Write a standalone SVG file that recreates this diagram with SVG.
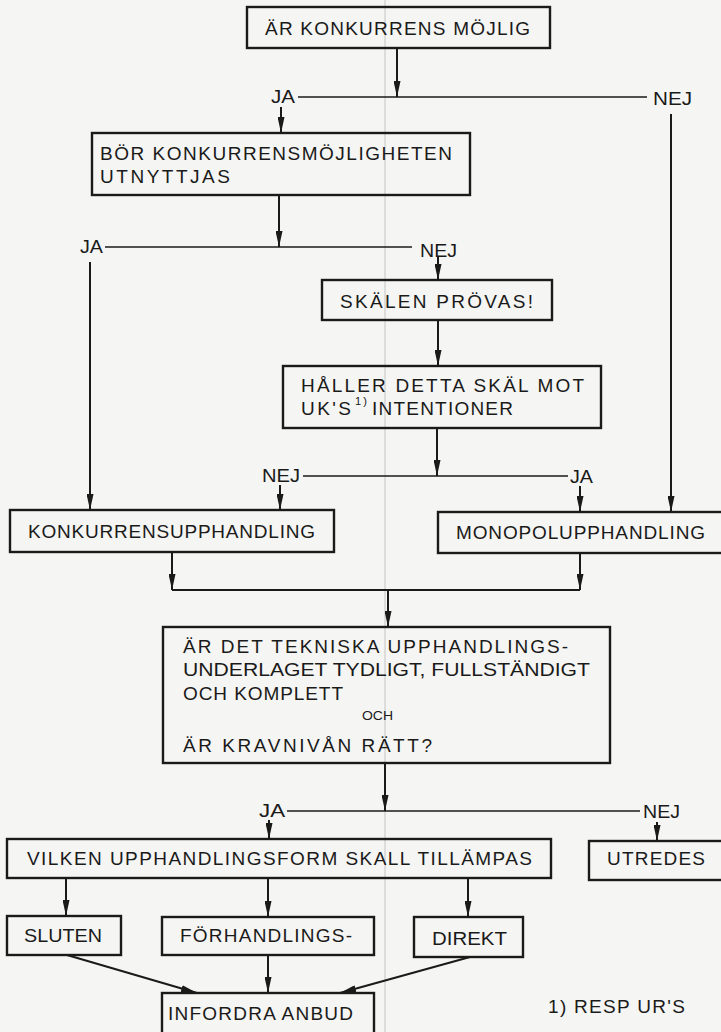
<svg xmlns="http://www.w3.org/2000/svg" width="721" height="1032" viewBox="0 0 721 1032">
<defs>
<style>
.box{fill:none;stroke:#1a1a1a;stroke-width:2.4}
.ln{fill:none;stroke:#1a1a1a;stroke-width:2}
.hl{fill:none;stroke:#1a1a1a;stroke-width:1.6}
.ar{fill:none;stroke:#1a1a1a;stroke-width:2;marker-end:url(#ah)}
text{font-family:"Liberation Sans",Arial,sans-serif;font-size:19px;fill:#1a1a1a}
.sm{font-size:13px}
.sup{font-size:11px}
</style>
<marker id="ah" viewBox="0 0 16 7" refX="16" refY="3.5" markerWidth="16" markerHeight="7" markerUnits="userSpaceOnUse" orient="auto">
<path d="M0,0 L16,3.5 L0,7 z" fill="#1a1a1a"/>
</marker>
</defs>
<rect x="0" y="0" width="721" height="1032" fill="#f5f5f3"/>
<line x1="385" y1="0" x2="385" y2="1032" stroke="#c4c4c4" stroke-width="1"/>

<g id="connectors">
<line class="ar" x1="397" y1="48" x2="397" y2="97"/>
<line class="hl" x1="298" y1="97" x2="647" y2="97"/>
<line class="ar" x1="281" y1="107" x2="281" y2="133"/>
<line class="ar" x1="671" y1="114" x2="671" y2="512"/>
<line class="ar" x1="279" y1="195" x2="279" y2="247"/>
<line class="hl" x1="105" y1="247" x2="412" y2="247"/>
<line class="ar" x1="90" y1="262" x2="90" y2="510"/>
<line class="ar" x1="438" y1="257" x2="438" y2="280"/>
<line class="ar" x1="438" y1="320" x2="438" y2="366"/>
<line class="ar" x1="437" y1="428" x2="437" y2="476"/>
<line class="hl" x1="303" y1="476" x2="568" y2="476"/>
<line class="ar" x1="280" y1="485" x2="280" y2="510"/>
<line class="ar" x1="580" y1="486" x2="580" y2="512"/>
<line class="ar" x1="172" y1="552" x2="172" y2="590"/>
<line class="ar" x1="580" y1="553" x2="580" y2="590"/>
<line class="ln" x1="172" y1="590" x2="580" y2="590"/>
<line class="ar" x1="388" y1="590" x2="388" y2="627"/>
<line class="ar" x1="385" y1="763" x2="385" y2="811"/>
<line class="hl" x1="287" y1="811" x2="640" y2="811"/>
<line class="ar" x1="269" y1="820" x2="269" y2="839"/>
<line class="ar" x1="657" y1="822" x2="657" y2="841"/>
<line class="ar" x1="66" y1="878" x2="66" y2="916"/>
<line class="ar" x1="268" y1="878" x2="268" y2="917"/>
<line class="ar" x1="468" y1="878" x2="468" y2="917"/>
<line class="ar" x1="67" y1="955" x2="197" y2="993"/>
<line class="ar" x1="268" y1="955" x2="268" y2="993"/>
<line class="ar" x1="470" y1="957" x2="340" y2="993"/>
<text x="271" y="103" textLength="24" lengthAdjust="spacingAndGlyphs">JA</text>
<text x="653" y="105" textLength="39" lengthAdjust="spacingAndGlyphs">NEJ</text>
<text x="80" y="253" textLength="23" lengthAdjust="spacingAndGlyphs">JA</text>
<text x="420" y="257" textLength="37" lengthAdjust="spacingAndGlyphs">NEJ</text>
<text x="262" y="482" textLength="38" lengthAdjust="spacingAndGlyphs">NEJ</text>
<text x="570" y="483" textLength="23" lengthAdjust="spacingAndGlyphs">JA</text>
<text x="259" y="817" textLength="26" lengthAdjust="spacingAndGlyphs">JA</text>
<text x="643" y="818" textLength="37" lengthAdjust="spacingAndGlyphs">NEJ</text>
</g>

<g id="n1">
<rect class="box" x="247" y="7" width="303" height="41"/>
<text x="265" y="35" textLength="265" lengthAdjust="spacing">ÄR KONKURRENS MÖJLIG</text>
</g>
<g id="n2">
<rect class="box" x="92" y="133" width="378" height="62"/>
<text x="100" y="160" textLength="352" lengthAdjust="spacing">BÖR KONKURRENSMÖJLIGHETEN</text>
<text x="100" y="183" textLength="130" lengthAdjust="spacing">UTNYTTJAS</text>
</g>
<g id="n3">
<rect class="box" x="322" y="280" width="230" height="40"/>
<text x="340" y="308" textLength="193" lengthAdjust="spacing">SKÄLEN PRÖVAS!</text>
</g>
<g id="n4">
<rect class="box" x="283" y="366" width="318" height="62"/>
<text x="301" y="392" textLength="283" lengthAdjust="spacing">HÅLLER DETTA SKÄL MOT</text>
<text x="301" y="415" textLength="50" lengthAdjust="spacing">UK'S</text>
<text class="sup" x="355" y="405" textLength="12" lengthAdjust="spacing">1)</text>
<text x="372" y="415" textLength="141" lengthAdjust="spacing">INTENTIONER</text>
</g>
<g id="n5">
<rect class="box" x="10" y="510" width="324" height="42"/>
<text x="28" y="538" textLength="287" lengthAdjust="spacing">KONKURRENSUPPHANDLING</text>
</g>
<g id="n6">
<rect class="box" x="438" y="512" width="286" height="41"/>
<text x="456" y="539" textLength="249" lengthAdjust="spacing">MONOPOLUPPHANDLING</text>
</g>
<g id="n7">
<rect class="box" x="163" y="627" width="447" height="136"/>
<text x="183" y="653" textLength="385" lengthAdjust="spacing">ÄR DET TEKNISKA UPPHANDLINGS-</text>
<text x="183" y="676" textLength="407" lengthAdjust="spacingAndGlyphs">UNDERLAGET TYDLIGT, FULLSTÄNDIGT</text>
<text x="183" y="700" textLength="160" lengthAdjust="spacing">OCH KOMPLETT</text>
<text class="sm" x="362" y="720" textLength="31" lengthAdjust="spacingAndGlyphs">OCH</text>
<text x="183" y="752" textLength="249" lengthAdjust="spacing">ÄR KRAVNIVÅN RÄTT?</text>
</g>
<g id="n8">
<rect class="box" x="7" y="839" width="544" height="39"/>
<text x="27" y="865" textLength="505" lengthAdjust="spacing">VILKEN UPPHANDLINGSFORM SKALL TILLÄMPAS</text>
</g>
<g id="n9">
<rect class="box" x="589" y="841" width="135" height="39"/>
<text x="607" y="865" textLength="98" lengthAdjust="spacing">UTREDES</text>
</g>
<g id="n10">
<rect class="box" x="7" y="916" width="114" height="39"/>
<text x="24" y="942" textLength="78" lengthAdjust="spacingAndGlyphs">SLUTEN</text>
</g>
<g id="n11">
<rect class="box" x="162" y="917" width="212" height="38"/>
<text x="180" y="942" textLength="172" lengthAdjust="spacing">FÖRHANDLINGS-</text>
</g>
<g id="n12">
<rect class="box" x="414" y="917" width="109" height="40"/>
<text x="432" y="945" textLength="75" lengthAdjust="spacingAndGlyphs">DIREKT</text>
</g>
<g id="n13">
<rect class="box" x="162" y="993" width="212" height="44"/>
<text x="168" y="1020" textLength="185" lengthAdjust="spacing">INFORDRA ANBUD</text>
</g>
<g id="footnote">
<text x="548" y="1013" textLength="137" lengthAdjust="spacing">1) RESP UR'S</text>
</g>
</svg>
